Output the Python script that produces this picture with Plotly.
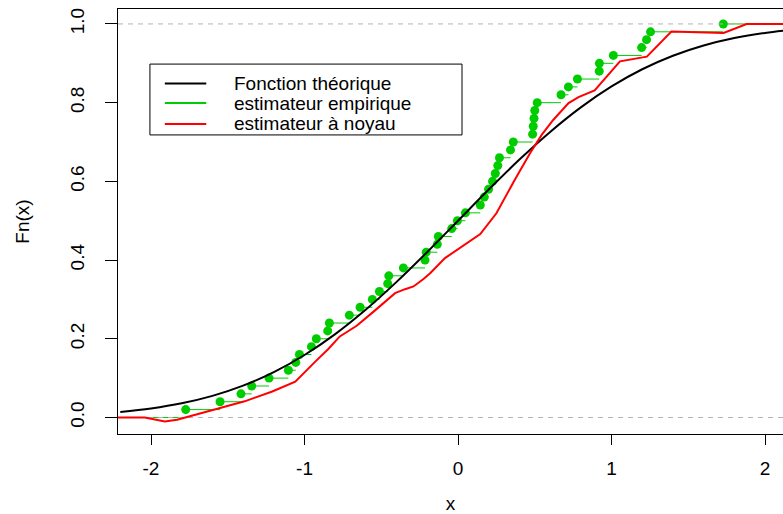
import plotly.graph_objects as go

# ---------------- data ----------------
# sorted sample (knots of the empirical CDF)
sample_x = [-1.774, -1.55, -1.414, -1.344, -1.231, -1.105, -1.057, -1.033, -0.955, -0.923,
            -0.849, -0.838, -0.708, -0.638, -0.558, -0.512, -0.458, -0.451, -0.356, -0.215,
            -0.207, -0.135, -0.128, -0.041, -0.004, 0.048, 0.145, 0.171, 0.199, 0.225,
            0.243, 0.259, 0.270, 0.342, 0.36, 0.486, 0.49, 0.495, 0.50, 0.516,
            0.671, 0.719, 0.778, 0.92, 0.921, 1.012, 1.196, 1.228, 1.254, 1.728]

# theoretical CDF (black curve)
theo_x = [-2.2, -2.0, -1.8, -1.6, -1.4, -1.2, -1.0, -0.8, -0.6, -0.4, -0.2, 0.0,
          0.2, 0.4, 0.6, 0.8, 1.0, 1.2, 1.4, 1.6, 1.8, 2.0, 2.2]
theo_y = [0.0139, 0.0228, 0.0359, 0.0548, 0.0808, 0.1151, 0.1587, 0.2119, 0.2743, 0.3446, 0.4207, 0.5,
          0.5793, 0.6554, 0.7257, 0.7881, 0.8413, 0.8849, 0.9192, 0.9452, 0.9641, 0.9772, 0.9861]

# kernel estimator (red curve)
kern_x = [-2.22, -2.04, -1.91, -1.83, -1.58, -1.39, -1.21, -1.06, -0.93, -0.845, -0.77, -0.66,
          -0.55, -0.465, -0.41, -0.345, -0.29, -0.225, -0.18, -0.085, 0.035, 0.145, 0.25, 0.335,
          0.37, 0.47, 0.545, 0.62, 0.72, 0.785, 0.89, 1.055, 1.23, 1.39, 1.555, 1.73, 1.88, 2.12]
kern_y = [0.0, 0.0, -0.01, -0.006, 0.021, 0.041, 0.066, 0.091, 0.142, 0.174, 0.206, 0.233,
          0.269, 0.299, 0.316, 0.326, 0.333, 0.352, 0.367, 0.405, 0.437, 0.466, 0.519, 0.58,
          0.604, 0.672, 0.718, 0.756, 0.799, 0.814, 0.831, 0.905, 0.917, 0.981, 0.979, 0.977, 1.0, 1.0]

x_range = [-2.215, 2.117]
y_range = [-0.042, 1.038]
x_ticks = [-2, -1, 0, 1, 2]
x_ticklabels = ["-2", "-1", "0", "1", "2"]
y_ticks = [0.0, 0.2, 0.4, 0.6, 0.8, 1.0]
y_ticklabels = ["0.0", "0.2", "0.4", "0.6", "0.8", "1.0"]
ref_levels = [0.0, 1.0]
legend_labels = ["Fonction théorique", "estimateur empirique", "estimateur à noyau"]
legend_colors = ["#000000", "#00CD00", "#FF0000"]

FONT = "Liberation Sans, Arial, sans-serif"
FS = 19

# ---------------- empirical CDF ----------------
n = len(sample_x)
levels = [(i + 1) / n for i in range(n)]
seg_x, seg_y = [], []
starts = [x_range[0]] + sample_x
ends = sample_x + [x_range[1]]
lv = [0.0] + levels
for a, b, l in zip(starts, ends, lv):
    seg_x += [a, b, None]
    seg_y += [l, l, None]

fig = go.Figure()
fig.add_trace(go.Scatter(x=seg_x, y=seg_y, mode="lines",
                         line=dict(color="#00CD00", width=1), showlegend=False, hoverinfo="skip"))
fig.add_trace(go.Scatter(x=sample_x, y=levels, mode="markers",
                         marker=dict(color="#00CD00", size=9), showlegend=False))

# dashed reference lines at 0 and 1
rx, ry = [], []
for h in ref_levels:
    rx += [x_range[0], x_range[1], None]
    ry += [h, h, None]
fig.add_trace(go.Scatter(x=rx, y=ry, mode="lines",
                         line=dict(color="#b3b3b3", width=1, dash="5px,5px"),
                         showlegend=False, hoverinfo="skip"))

fig.add_trace(go.Scatter(x=theo_x, y=theo_y, mode="lines", line_shape="spline",
                         line=dict(color="#000000", width=2), showlegend=False))
fig.add_trace(go.Scatter(x=kern_x, y=kern_y, mode="lines",
                         line=dict(color="#FF0000", width=2), showlegend=False))

# ---------------- manual legend (R style) ----------------
box = dict(x0=-2.007, x1=0.026, y0=0.718, y1=0.898)
fig.add_shape(type="rect", xref="x", yref="y", **box,
              line=dict(color="#000000", width=1), fillcolor="rgba(255,255,255,0)")
rows_y = [0.849, 0.799, 0.746]
for lab, col, yy in zip(legend_labels, legend_colors, rows_y):
    fig.add_shape(type="line", xref="x", yref="y", x0=-1.91, x1=-1.64, y0=yy, y1=yy,
                  line=dict(color=col, width=2))
    fig.add_annotation(x=-1.47, y=yy, xref="x", yref="y", text=lab, showarrow=False,
                       xanchor="left", yanchor="middle",
                       font=dict(family=FONT, size=FS, color="#000000"))

axis_common = dict(showgrid=False, zeroline=False, showline=True, linecolor="#000000",
                   linewidth=1, ticks="outside", tickcolor="#000000", tickwidth=1,
                   tickfont=dict(family=FONT, size=FS, color="#000000"), automargin=False)

fig.update_xaxes(range=x_range, tickvals=x_ticks, ticktext=x_ticklabels, ticklen=10,
                 ticklabelstandoff=7, mirror=True,
                 title=dict(text="x", font=dict(family=FONT, size=FS, color="#000000"), standoff=18),
                 **axis_common)
fig.update_yaxes(range=y_range, tickvals=y_ticks, ticktext=y_ticklabels, ticklen=12,
                 tickangle=-90, ticklabelstandoff=13, mirror=False,
                 title=dict(text="Fn(x)", font=dict(family=FONT, size=FS, color="#000000"), standoff=32),
                 **axis_common)

fig.update_layout(width=783, height=514, margin=dict(l=118, r=0, t=9, b=80),
                  paper_bgcolor="white", plot_bgcolor="white",
                  font=dict(family=FONT, size=FS, color="#000000"))

fig.write_html("out.html")
